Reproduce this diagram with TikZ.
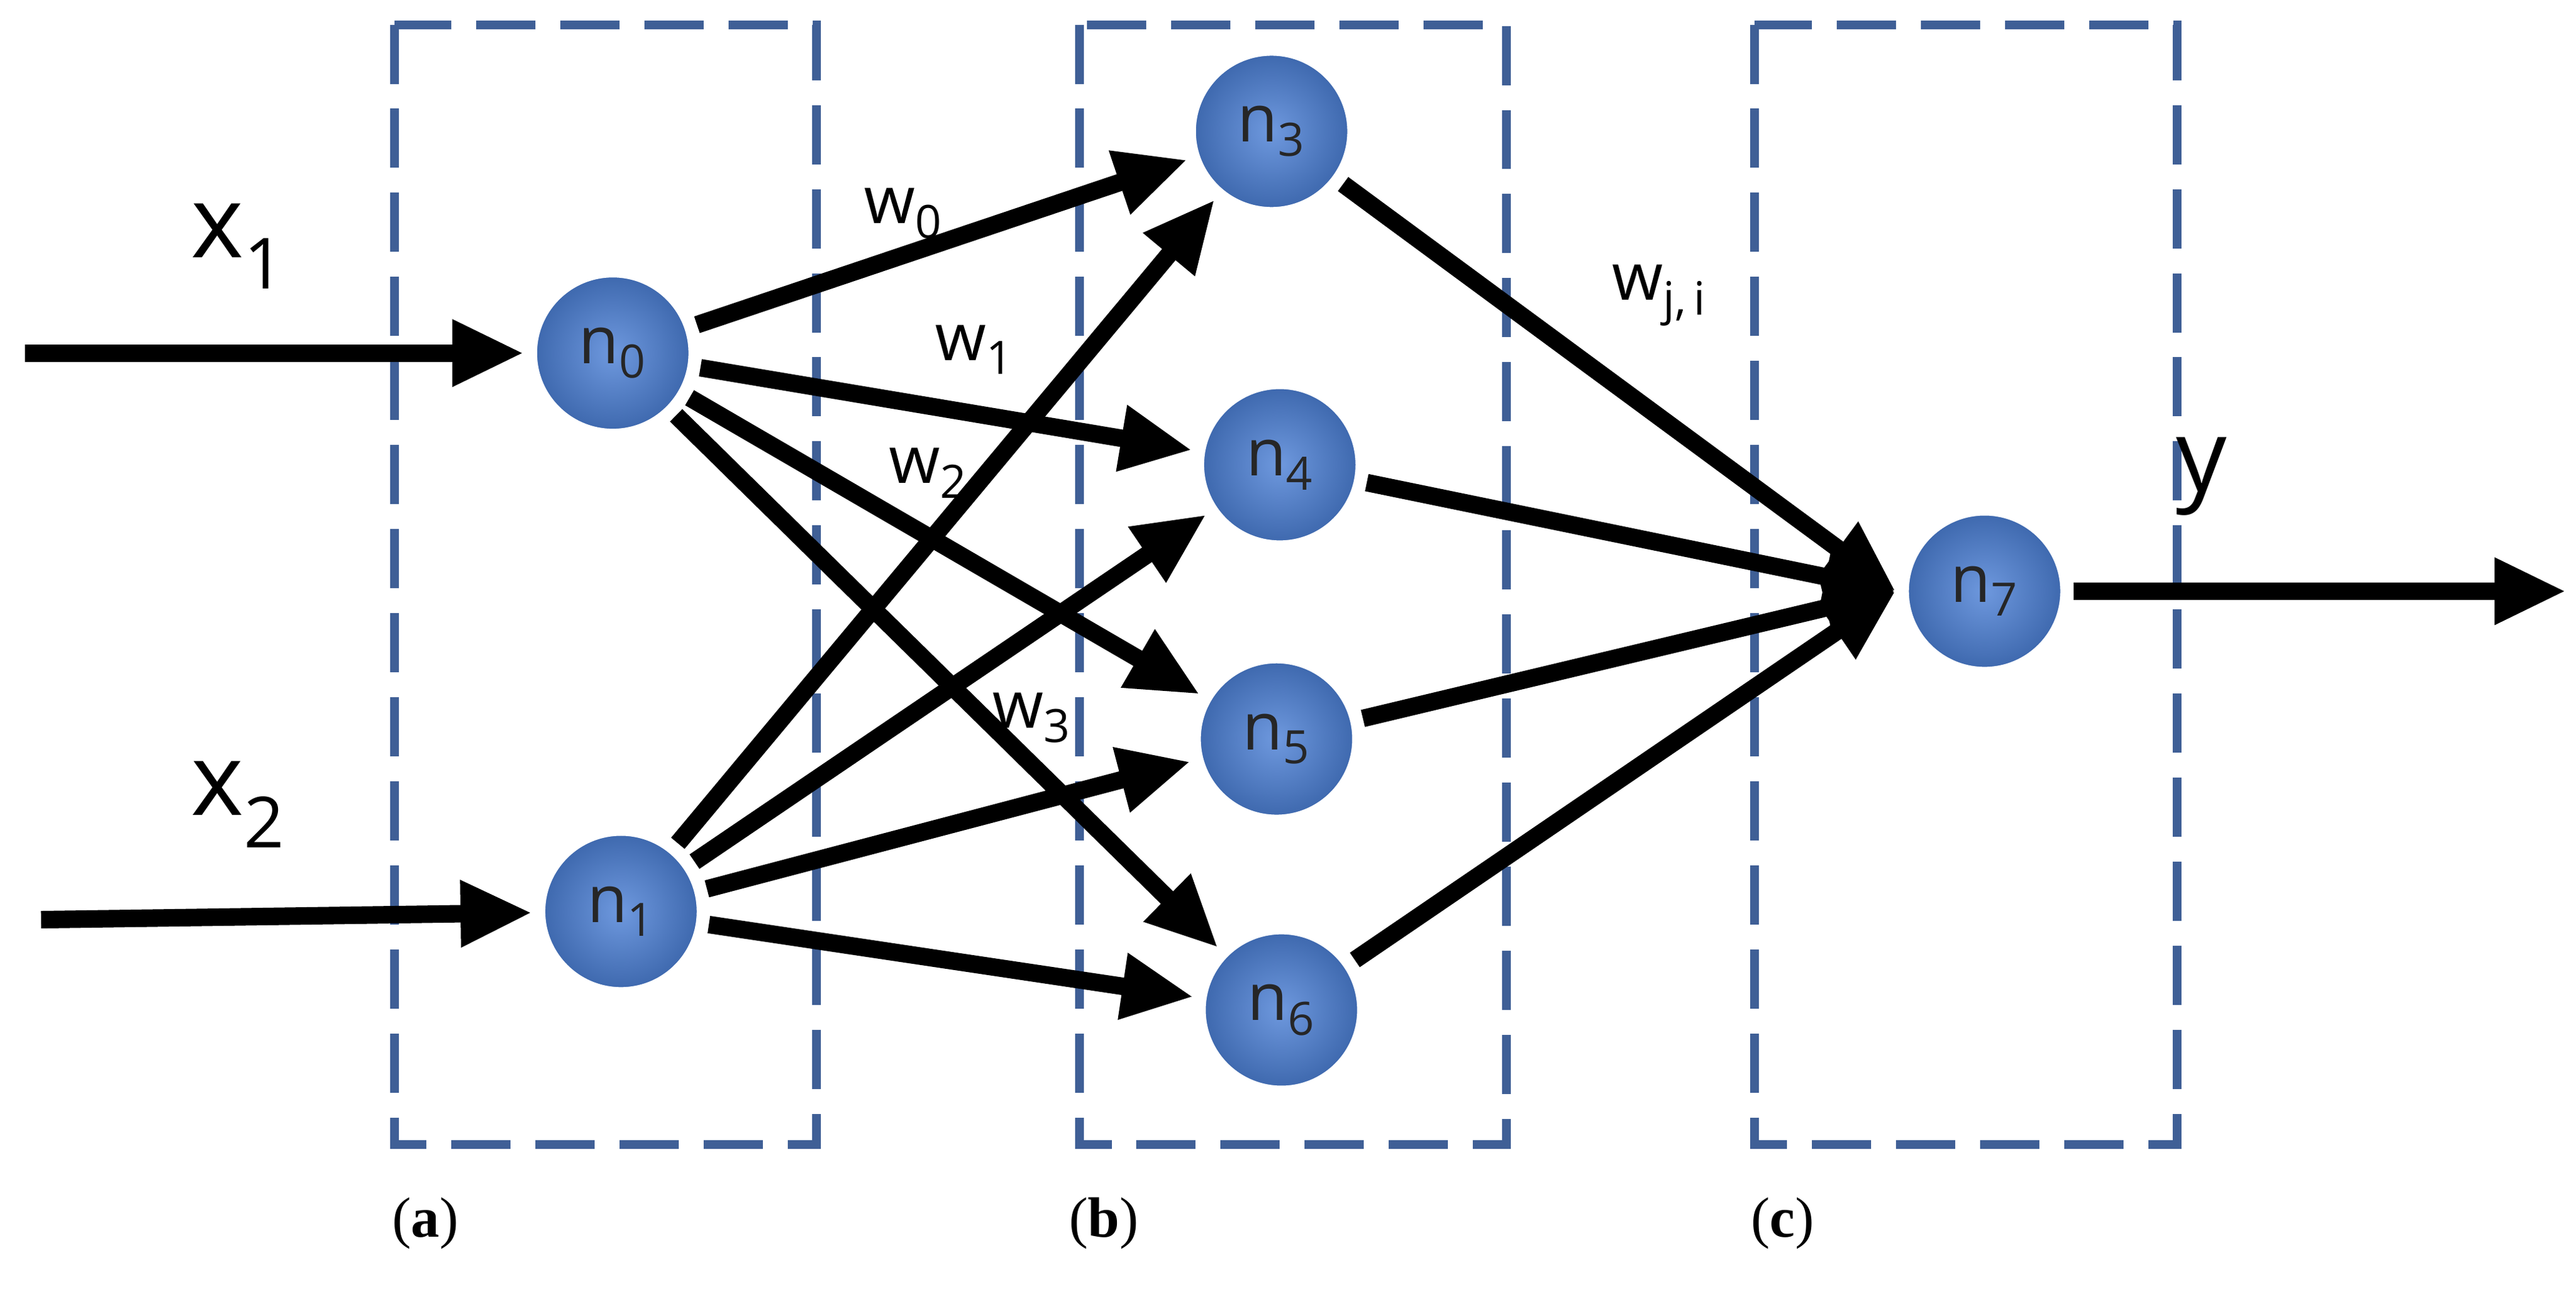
\documentclass[tikz,border=0pt]{standalone}
\usepackage{fontspec}
\setmainfont{Open Sans}
\newfontfamily\capfont{Liberation Serif}
\usetikzlibrary{arrows.meta}
\definecolor{boxc}{HTML}{3F5F96}
\definecolor{ballc}{HTML}{4A7FD6}
\begin{document}
\begin{tikzpicture}[x=0.02636cm,y=-0.02636cm,
 neuron/.style={circle,minimum size=2.64cm,inner sep=0pt,inner color=ballc!80!white,outer color=ballc!80!black,draw=white,line width=6pt,font=\fontsize{30}{32}\selectfont,text=black!85,outer sep=3pt},
 box/.style={draw=boxc,line width=4pt,dash pattern=on 0.95cm off 0.4cm},
 arr/.style={line width=8pt,-{Triangle[length=1.15cm,width=1cm]}},
 lbl/.style={font=\fontsize{30}{32}\selectfont},
 big/.style={font=\fontsize{46}{50}\selectfont},
 capt/.style={font=\fontsize{26}{28}\selectfont\capfont}]
\useasboundingbox (0,0) rectangle (1568,800);
\draw[box] (240,15) rectangle (497,697);
\draw[box] (657,15) rectangle (917,697);
\draw[box] (1068,15) rectangle (1325,697);
\node[neuron] (n0) at (373,215) {n\textsubscript{0}};
\node[neuron] (n1) at (378,555) {n\textsubscript{1}};
\node[neuron] (n3) at (774,80) {n\textsubscript{3}};
\node[neuron] (n4) at (779,283) {n\textsubscript{4}};
\node[neuron] (n5) at (777,450) {n\textsubscript{5}};
\node[neuron] (n6) at (780,615) {n\textsubscript{6}};
\node[neuron] (n7) at (1208,360) {n\textsubscript{7}};
\coordinate (i1) at (15,215);
\coordinate (i2) at (25,560);
\coordinate (o) at (1562,360);
\draw[arr] (i1) -- (n0);
\draw[arr] (i2) -- (n1);
\draw[arr] (n7) -- (o);
\foreach \s in {n0,n1}{\foreach \t in {n3,n4,n5,n6}{\draw[arr] (\s) -- (\t);}}
\foreach \s in {n3,n4,n5,n6}{\draw[arr] (\s) -- (n7.west);}
\node[big] (lx1) at (145,150) {x\textsubscript{1}};
\node[big] (lx2) at (145,490) {x\textsubscript{2}};
\node[big] (ly) at (1340,290) {y};
\node[lbl] (w0) at (550,130) {w\textsubscript{0}};
\node[lbl] (w1) at (593,213) {w\textsubscript{1}};
\node[lbl] (w2) at (565,288) {w\textsubscript{2}};
\node[lbl] (w3) at (628,437) {w\textsubscript{3}};
\node[lbl] (wji) at (1010,180) {w\textsubscript{j,\,i}};
\node[capt] (ca) at (259,745) {(\textbf{a})};
\node[capt] (cb) at (672,745) {(\textbf{b})};
\node[capt] (cc) at (1085,745) {(\textbf{c})};
\end{tikzpicture}
\end{document}
